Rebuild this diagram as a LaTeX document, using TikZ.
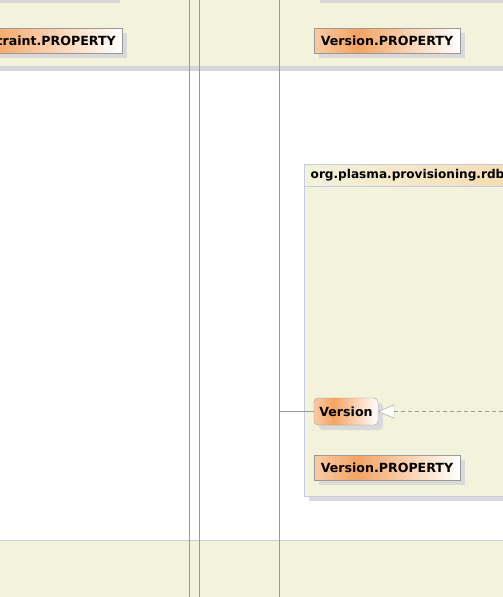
\documentclass[tikz,border=0pt]{standalone}
\usepackage{fontspec}
\setmainfont{DejaVu Sans}
\usetikzlibrary{arrows.meta,shadows}
\definecolor{cream}{HTML}{F3F3DC}
\definecolor{band}{HTML}{D6D6DC}
\definecolor{vline}{HTML}{999999}
\definecolor{pkgborder}{HTML}{C4CBE6}
\definecolor{nodeborder}{HTML}{999999}
\definecolor{peach}{HTML}{F8CBA4}
\definecolor{orangepk}{HTML}{F4A460}
\definecolor{shadowgray}{HTML}{D9D9D9}
\definecolor{headpeach}{HTML}{F5DDB2}
\pgfdeclarehorizontalshading{classshade}{100bp}{color(0bp)=(peach); color(25bp)=(peach); color(40bp)=(orangepk); color(75bp)=(white); color(100bp)=(white)}
\pgfdeclarehorizontalshading{headshade}{100bp}{color(0bp)=(cream); color(25bp)=(cream); color(75bp)=(headpeach); color(100bp)=(headpeach)}
\tikzset{
  labelfont/.style={font=\bfseries\fontsize{12.6}{15}\selectfont},
  classbox/.style={draw=nodeborder, shading=classshade, minimum height=25pt, inner xsep=6pt,
    labelfont, text=black,
    drop shadow={shadow xshift=5pt, shadow yshift=-5pt, fill=shadowgray, opacity=1}},
  lifeline/.style={draw=vline, line width=1pt},
}
\begin{document}
\begin{tikzpicture}[x=1pt,y=-1pt]
\useasboundingbox (0,0) rectangle (503,597);
\clip (0,0) rectangle (503,597);
% top swimlane band
\fill[cream] (0,0) rectangle (503,66);
\fill[band] (0,66) rectangle (503,71);
\fill[shadowgray] (0,0) rectangle (120,3);
\fill[shadowgray] (320,0) rectangle (503,3);
% bottom band
\fill[cream] (0,540) rectangle (503,597);
\draw[pkgborder] (0,540.5) -- (503,540.5);
% package
\fill[shadowgray] (309,169) rectangle (512,501);
\filldraw[fill=cream, draw=pkgborder] (304.5,164.5) rectangle (512,496.5);
\shade[shading=headshade, draw=pkgborder] (304.5,164.5) rectangle (512,186.5);
\node[anchor=west, font=\bfseries\fontsize{12.1}{15}\selectfont, inner sep=0pt] (pkgtitle) at (310.5,175.5) {org.plasma.provisioning.rdb};
% vertical lines
\coordinate (a1) at (189.5,0); \coordinate (a2) at (189.5,597);
\coordinate (b1) at (199.5,0); \coordinate (b2) at (199.5,597);
\coordinate (c1) at (279.5,0); \coordinate (c2) at (279.5,597);
\draw[lifeline] (a1) -- (a2);
\draw[lifeline] (b1) -- (b2);
\draw[lifeline] (c1) -- (c2);
% nodes
\node[classbox, anchor=east, text width=180pt, align=right] (cprop) at (122,40.5) {traint.PROPERTY};
\node[classbox, minimum width=146pt] (vproptop) at (387,40.5) {Version.PROPERTY};
\node[classbox, rounded corners=4pt, minimum width=64pt, minimum height=27pt, inner xsep=4pt] (version) at (346,411.5) {Version};
\node[classbox, minimum width=146pt] (vprop) at (387,467.5) {Version.PROPERTY};
% connectors
\coordinate (lifeV) at (279.5,411.5);
\coordinate (rightend) at (503,411.5);
\draw[draw=vline] (lifeV) -- (version.west);
\draw[draw=vline, dash pattern=on 4pt off 3pt, -{Triangle[length=16pt,width=14pt,fill=white]}] (rightend) -- (version.east);
\end{tikzpicture}
\end{document}
